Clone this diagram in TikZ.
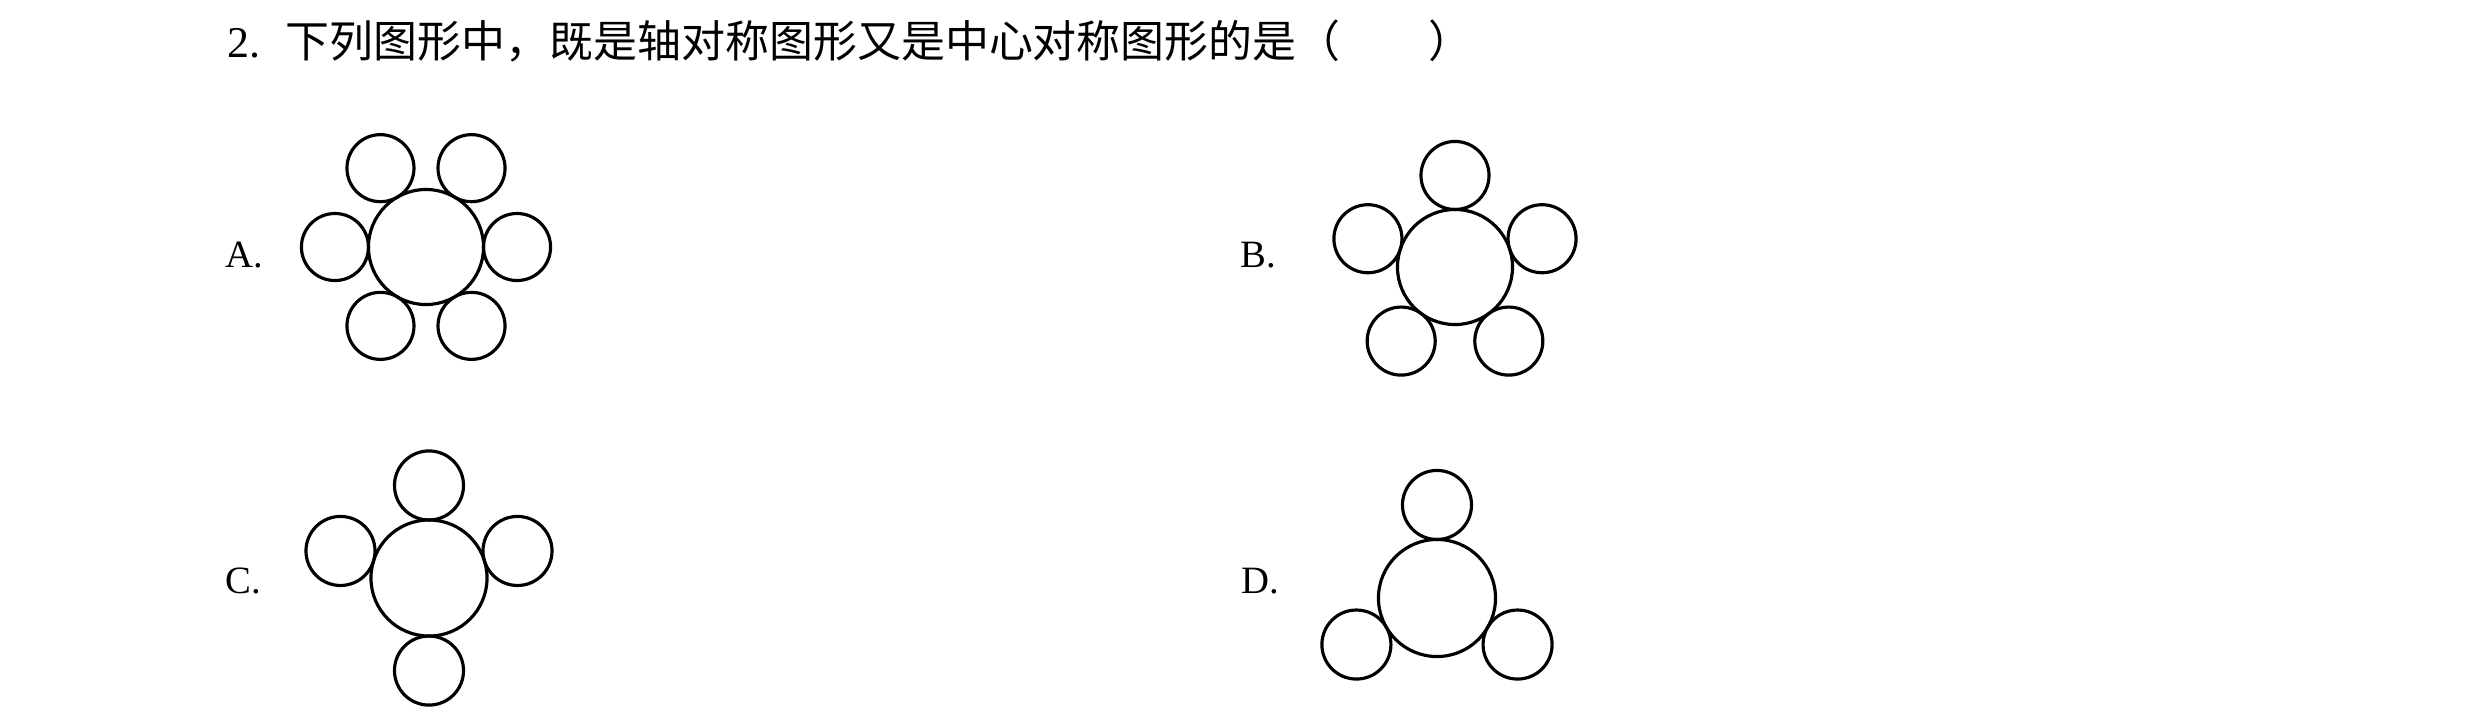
\documentclass[tikz,border=0pt]{standalone}
\usepackage{fontspec}
\setmainfont{Liberation Serif}
\newfontfamily\cjk{Noto Sans CJK SC}
\usetikzlibrary{calc}
\begin{document}
\begin{tikzpicture}[x=0.01cm,y=-0.01cm,
  ring/.style={draw=black,line width=0.9pt},
  lbl/.style={anchor=base west,inner sep=0pt,font=\fontsize{11}{13}\selectfont},
  ttl/.style={anchor=base west,inner sep=0pt,font=\fontsize{12.5}{14}\selectfont}]
\useasboundingbox (0,0) rectangle (2480,726);
% title
\node[ttl] (num) at (227,57) {2.};
\node[ttl] (question) at (285,57) {\cjk 下列图形中，既是轴对称图形又是中心对称图形的是（\hspace{2em}）};
% labels
\node[lbl] (la) at (225,267) {A.};
\node[lbl] (lb) at (1240,267) {B.};
\node[lbl] (lc) at (225,593) {C.};
\node[lbl] (ld) at (1241,593) {D.};
% A
\coordinate (A) at (426,247);
\draw[ring] (A) circle[radius=0.575cm];
\foreach \a in {0,60,...,300}
  \draw[ring] ($(A)+(\a:0.91cm)$) circle[radius=0.335cm];
% B
\coordinate (B) at (1455,267);
\draw[ring] (B) circle[radius=0.575cm];
\foreach \a in {18,90,162,234,306}
  \draw[ring] ($(B)+(\a:0.915cm)$) circle[radius=0.34cm];
% C
\coordinate (C) at (429,578);
\draw[ring] (C) circle[radius=0.58cm];
\foreach \a in {90,163,17,270}
  \draw[ring] ($(C)+(\a:0.925cm)$) circle[radius=0.345cm];
% D
\coordinate (D) at (1437,598);
\draw[ring] (D) circle[radius=0.585cm];
\foreach \a in {90,210,330}
  \draw[ring] ($(D)+(\a:0.93cm)$) circle[radius=0.345cm];
\end{tikzpicture}
\end{document}
